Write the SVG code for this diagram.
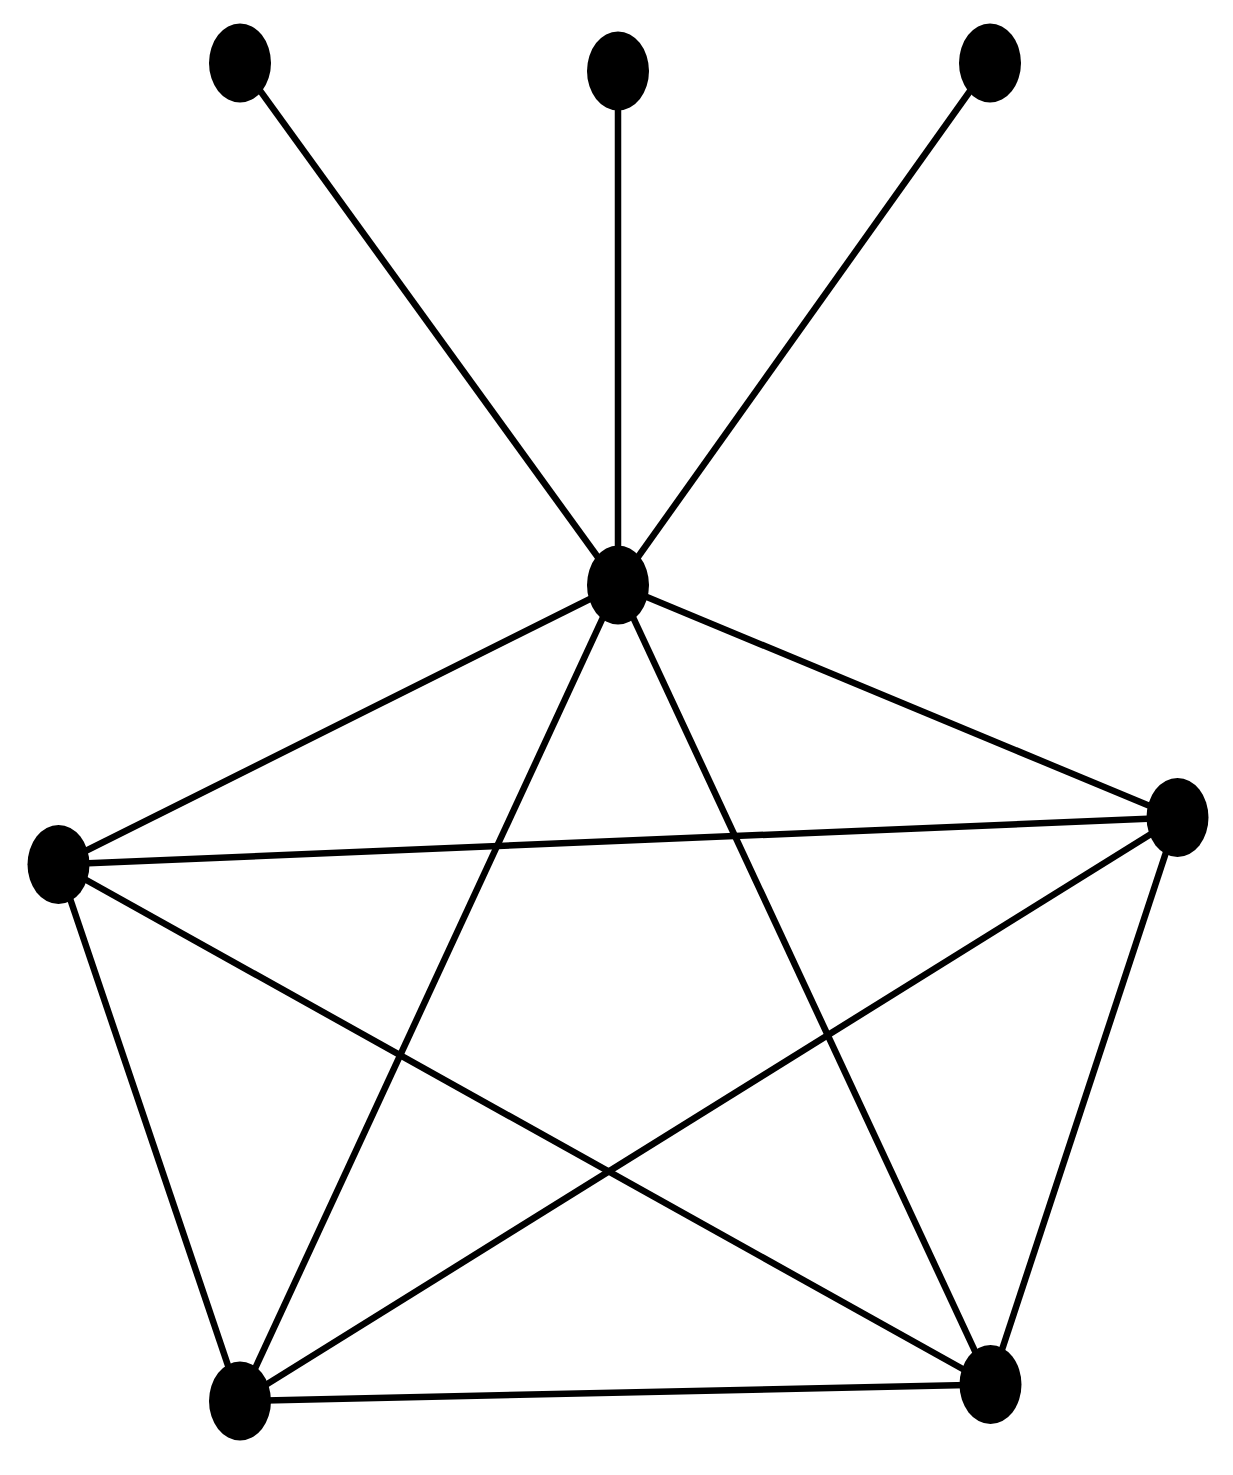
<svg xmlns="http://www.w3.org/2000/svg" width="1233" height="1475" viewBox="0 0 1233 1475">
<style>
.e{stroke:#000;stroke-width:6.5;fill:none}
.n{fill:#000}
</style>
<rect width="1233" height="1475" fill="#fff"/>
<g id="connectors">
<line class="e" x1="240" y1="63" x2="618" y2="585"/>
<line class="e" x1="618" y1="71" x2="618" y2="585"/>
<line class="e" x1="990" y1="63" x2="618" y2="585"/>
<line class="e" x1="618" y1="585" x2="58.5" y2="864.5"/>
<line class="e" x1="618" y1="585" x2="1177.5" y2="817.5"/>
<line class="e" x1="618" y1="585" x2="240" y2="1401"/>
<line class="e" x1="618" y1="585" x2="990.5" y2="1384.5"/>
<line class="e" x1="58.5" y1="864.5" x2="1177.5" y2="817.5"/>
<line class="e" x1="58.5" y1="864.5" x2="990.5" y2="1384.5"/>
<line class="e" x1="58.5" y1="864.5" x2="240" y2="1401"/>
<line class="e" x1="1177.5" y1="817.5" x2="240" y2="1401"/>
<line class="e" x1="1177.5" y1="817.5" x2="990.5" y2="1384.5"/>
<line class="e" x1="240" y1="1401" x2="990.5" y2="1384.5"/>
</g>
<g id="n-tl"><ellipse class="n" cx="240" cy="63" rx="31" ry="39.5"/></g>
<g id="n-tm"><ellipse class="n" cx="618" cy="71" rx="31" ry="39.5"/></g>
<g id="n-tr"><ellipse class="n" cx="990" cy="63" rx="31" ry="39.5"/></g>
<g id="n-c"><ellipse class="n" cx="618" cy="585" rx="31" ry="39.5"/></g>
<g id="n-l"><ellipse class="n" cx="58.5" cy="864.5" rx="31" ry="39.5"/></g>
<g id="n-r"><ellipse class="n" cx="1177.5" cy="817.5" rx="31" ry="39.5"/></g>
<g id="n-bl"><ellipse class="n" cx="240" cy="1401" rx="31" ry="39.5"/></g>
<g id="n-br"><ellipse class="n" cx="990.5" cy="1384.5" rx="31" ry="39.5"/></g>
</svg>
